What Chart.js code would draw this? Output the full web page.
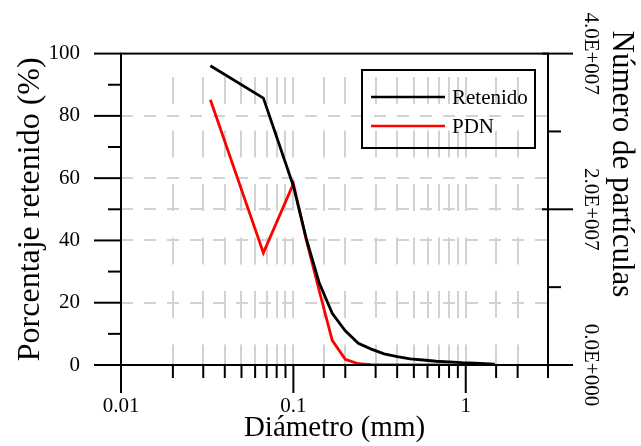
<!DOCTYPE html>
<html>
<head>
<meta charset="utf-8">
<script src="https://cdn.jsdelivr.net/npm/chart.js@4.4.1/dist/chart.umd.min.js"></script>
<style>
  body { margin: 0; background: #fff; }
</style>
</head>
<body>
<canvas id="myChart" width="641" height="446"></canvas>
<script>
// diameters (mm) shared by both curves
const diametros = [0.033, 0.067, 0.1, 0.119, 0.141, 0.168, 0.2, 0.238, 0.283, 0.336, 0.4, 0.476, 0.566, 0.673, 0.8, 0.951, 1.13, 1.47];
const retenido = [96.1, 85.7, 57.5, 40.4, 26.5, 16.6, 11.0, 7.0, 5.1, 3.6, 2.7, 2.0, 1.6, 1.2, 1.0, 0.75, 0.6, 0.3];
const pdn = [85.2, 36.0, 58.2, 40.0, 24.0, 7.9, 1.8, 0.4, 0.1, 0, 0, 0, 0, 0, 0, 0, 0, 0];

const xTickLabels = [0.01, 0.1, 1];
const yTickLabels = [0, 20, 40, 60, 80, 100];
const y2TickLabels = [0, 2e7, 4e7];
const y2Title = 'Número de partículas';

const FONT = 'Liberation Serif';
const GRID_COLOR = '#d2d2d2';

function isDecade(v) {
    const l = Math.log10(v);
    return Math.abs(l - Math.round(l)) < 1e-6;
}

function sci(v) {
    // 4.0E+007 style
    if (v === 0) return '0.0E+000';
    const e = Math.floor(Math.log10(v));
    const m = v / Math.pow(10, e);
    return m.toFixed(1) + 'E+' + String(e).padStart(3, '0');
}

function toPoints(ys) {
    return diametros.map((d, i) => ({ x: d, y: ys[i] }));
}

// frame, tick marks, right axis labels and the boxed legend
const axesExtras = {
    id: 'axesExtras',
    afterDraw(chart) {
        const { ctx, chartArea: a, scales } = chart;
        ctx.save();
        ctx.strokeStyle = '#000';
        ctx.lineWidth = 2;
        ctx.lineCap = 'butt';

        function seg(x1, y1, x2, y2) {
            ctx.beginPath();
            ctx.moveTo(x1, y1);
            ctx.lineTo(x2, y2);
            ctx.stroke();
        }

        ctx.strokeRect(a.left, a.top, a.right - a.left, a.bottom - a.top);

        scales.x.ticks.forEach(t => {
            const px = scales.x.getPixelForValue(t.value);
            seg(px, a.bottom, px, a.bottom + (isDecade(t.value) ? 28 : 13));
        });
        scales.y.ticks.forEach(t => {
            const py = scales.y.getPixelForValue(t.value);
            seg(a.left, py, a.left - (t.value % 20 === 0 ? 27 : 13), py);
        });
        scales.y2.ticks.forEach(t => {
            const py = scales.y2.getPixelForValue(t.value);
            if (y2TickLabels.includes(t.value)) seg(a.right - 6, py, a.right + 25, py);
            else seg(a.right, py, a.right + 13, py);
        });

        // right axis labels, rotated clockwise
        ctx.fillStyle = '#000';
        ctx.textAlign = 'center';
        ctx.textBaseline = 'middle';
        ctx.font = '21px "' + FONT + '"';
        y2TickLabels.forEach(v => {
            const py = scales.y2.getPixelForValue(v);
            ctx.save();
            ctx.translate(591, py);
            ctx.rotate(Math.PI / 2);
            ctx.fillText(sci(v), 0, 0);
            ctx.restore();
        });
        ctx.save();
        ctx.font = '31px "' + FONT + '"';
        ctx.translate(621, 164);
        ctx.rotate(Math.PI / 2);
        ctx.fillText(y2Title, 0, 0);
        ctx.restore();

        // legend box
        ctx.lineWidth = 2;
        ctx.strokeRect(362, 70, 173, 78);
        ctx.textAlign = 'left';
        ctx.font = '21px "' + FONT + '"';
        chart.data.datasets.forEach((ds, i) => {
            const ly = 97 + i * 29;
            ctx.strokeStyle = ds.borderColor;
            ctx.lineWidth = 2.5;
            seg(371, ly, 445, ly);
            ctx.fillText(ds.label, 452, ly + 1);
        });
        ctx.restore();
    }
};

const ctx = document.getElementById('myChart').getContext('2d');
const myChart = new Chart(ctx, {
    type: 'line',
    data: {
        datasets: [{
            label: 'Retenido',
            data: toPoints(retenido),
            borderColor: '#000000',
            borderWidth: 2.8,
            pointRadius: 0,
            tension: 0,
            yAxisID: 'y'
        }, {
            label: 'PDN',
            data: toPoints(pdn),
            borderColor: '#ff0000',
            borderWidth: 2.8,
            pointRadius: 0,
            tension: 0,
            yAxisID: 'y'
        }]
    },
    options: {
        responsive: false,
        animation: false,
        events: [],
        layout: { padding: { top: 51, left: 0, right: 0, bottom: 0 } },
        plugins: {
            legend: { display: false },
            tooltip: { enabled: false }
        },
        scales: {
            x: {
                type: 'logarithmic',
                position: 'bottom',
                min: 0.01,
                max: 3,
                afterFit: s => { s.height = 81; },
                border: { display: false, dash: [27, 26.5], dashOffset: 30 },
                grid: {
                    drawTicks: false,
                    lineWidth: 2,
                    color: c => (c.tick && c.tick.value > 0.0101 && c.tick.value < 2.99) ? GRID_COLOR : 'rgba(0,0,0,0)'
                },
                ticks: {
                    autoSkip: false,
                    maxRotation: 0,
                    padding: 29,
                    color: '#000',
                    font: { family: FONT, size: 21 },
                    callback: v => xTickLabels.some(t => Math.abs(t - v) < 1e-9) ? String(v) : ''
                },
                title: {
                    display: true,
                    text: 'Diámetro (mm)',
                    color: '#000',
                    font: { family: FONT, size: 29, lineHeight: 1.2 },
                    padding: { top: 0, bottom: 0 }
                }
            },
            y: {
                position: 'left',
                min: 0,
                max: 100,
                afterFit: s => { s.width = 121; },
                border: { display: false, dash: [12, 11], dashOffset: 0 },
                grid: {
                    drawTicks: false,
                    lineWidth: 2,
                    color: c => (c.tick && c.tick.value % 20 === 0 && c.tick.value > 0 && c.tick.value < 100) ? GRID_COLOR : 'rgba(0,0,0,0)'
                },
                ticks: {
                    stepSize: 10,
                    autoSkip: false,
                    padding: 41,
                    color: '#000',
                    font: { family: FONT, size: 21 },
                    callback: v => yTickLabels.includes(v) ? String(v) : ''
                },
                title: {
                    display: true,
                    text: 'Porcentaje retenido (%)',
                    color: '#000',
                    font: { family: FONT, size: 32, lineHeight: 1.2 },
                    padding: { top: 11, bottom: 0 }
                }
            },
            y2: {
                position: 'right',
                min: 0,
                max: 4e7,
                afterFit: s => { s.width = 93; },
                border: { display: false, dash: [12, 11], dashOffset: 0 },
                grid: {
                    drawTicks: false,
                    lineWidth: 2,
                    color: c => (c.tick && c.tick.value === 2e7) ? GRID_COLOR : 'rgba(0,0,0,0)'
                },
                ticks: {
                    stepSize: 1e7,
                    autoSkip: false,
                    display: false
                }
            }
        }
    },
    plugins: [axesExtras]
});
</script>
</body>
</html>
